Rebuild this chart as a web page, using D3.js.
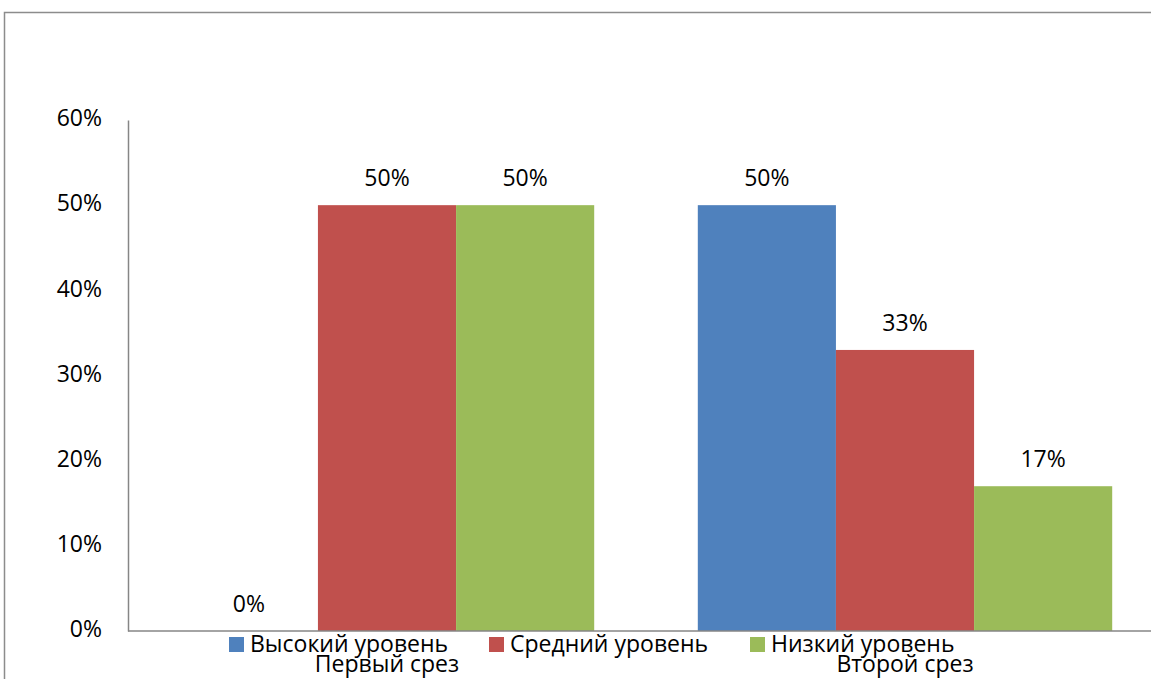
<!DOCTYPE html>
<html>
<head>
<meta charset="utf-8">
<script src="https://cdn.jsdelivr.net/npm/d3@7"></script>
<style>
  html, body { margin: 0; padding: 0; background: #ffffff; overflow: hidden; }
  svg { display: block; }
  text { font-family: "Open Sans", Lato, sans-serif; fill: #000; }
</style>
</head>
<body>
<svg id="chart" width="1151" height="679"></svg>
<script>
// Two survey rounds, three achievement levels (share of pupils)
const categories = ["Первый срез", "Второй срез"];
const seriesNames = ["Высокий уровень", "Средний уровень", "Низкий уровень"];
const highLevel = [0.00, 0.50];
const midLevel = [0.50, 0.33];
const lowLevel = [0.50, 0.17];
const yTicks = [0, 0.1, 0.2, 0.3, 0.4, 0.5, 0.6];
const colors = ["#4f81bd", "#c0504d", "#9bbb59"];

const seriesValues = [highLevel, midLevel, lowLevel];

const svg = d3.select("#chart");
const W = 1151, H = 679;
const FS = 23;

// Outer chart frame (runs past the right and bottom edges)
svg.append("rect")
  .attr("x", 4.5).attr("y", 12.5)
  .attr("width", W + 20).attr("height", H + 20)
  .attr("fill", "#fff")
  .attr("stroke", "#8c8c8c").attr("stroke-width", 1.5);

const plot = { left: 128, top: 120, bottom: 631, right: 1164 };

// One slot per category; the bar group fills the middle 80% of it
const slot = (plot.right - plot.left) / categories.length;
const groupX = d3.scaleBand()
  .domain(categories)
  .range([plot.left, plot.right])
  .padding(0);

const x1 = d3.scaleBand()
  .domain(seriesNames)
  .range([0, slot * 0.8]);

const y = d3.scaleLinear()
  .domain([0, 0.6])
  .range([plot.bottom, plot.top]);

const pct = d3.format(".0%");

// Bars
const groups = svg.append("g").selectAll("g")
  .data(categories)
  .join("g")
  .attr("transform", c => `translate(${groupX(c) + slot * 0.1},0)`);

groups.selectAll("rect")
  .data((c, i) => seriesNames.map((s, j) => ({ s, j, v: seriesValues[j][i] })))
  .join("rect")
  .attr("x", d => x1(d.s))
  .attr("y", d => y(d.v))
  .attr("width", x1.bandwidth())
  .attr("height", d => y(0) - y(d.v))
  .attr("fill", d => colors[d.j]);

// Value labels above bars
groups.selectAll("text.val")
  .data((c, i) => seriesNames.map((s, j) => ({ s, j, v: seriesValues[j][i] })))
  .join("text")
  .attr("class", "val")
  .attr("x", d => x1(d.s) + x1.bandwidth() / 2)
  .attr("y", d => y(d.v) - 19)
  .attr("text-anchor", "middle")
  .attr("font-size", FS)
  .text(d => pct(d.v));

// Y axis
const yAxis = d3.axisLeft(y)
  .tickValues(yTicks)
  .tickFormat(pct)
  .tickSize(0)
  .tickPadding(26);

const gy = svg.append("g")
  .attr("transform", `translate(${plot.left},0)`)
  .call(yAxis);
gy.select(".domain").attr("stroke", "#868686").attr("stroke-width", 1.5);
gy.selectAll(".tick text")
  .attr("font-size", FS)
  .attr("dy", "0.25em")
  .style("font-family", "'Open Sans', Lato, sans-serif");

// X axis baseline
svg.append("line")
  .attr("x1", plot.left).attr("x2", W)
  .attr("y1", y(0)).attr("y2", y(0))
  .attr("stroke", "#868686").attr("stroke-width", 1.5);

// Category labels
svg.append("g").selectAll("text")
  .data(categories)
  .join("text")
  .attr("x", c => groupX(c) + slot / 2)
  .attr("y", 672)
  .attr("text-anchor", "middle")
  .attr("font-size", FS)
  .text(c => c);

// Legend
const legendX = [229, 489, 750];
const legend = svg.append("g").selectAll("g")
  .data(seriesNames)
  .join("g")
  .attr("transform", (s, i) => `translate(${legendX[i]},637)`);
legend.append("rect")
  .attr("width", 15).attr("height", 15)
  .attr("fill", (s, i) => colors[i]);
legend.append("text")
  .attr("x", 21).attr("y", 15)
  .attr("font-size", FS)
  .text(s => s);
</script>
</body>
</html>
